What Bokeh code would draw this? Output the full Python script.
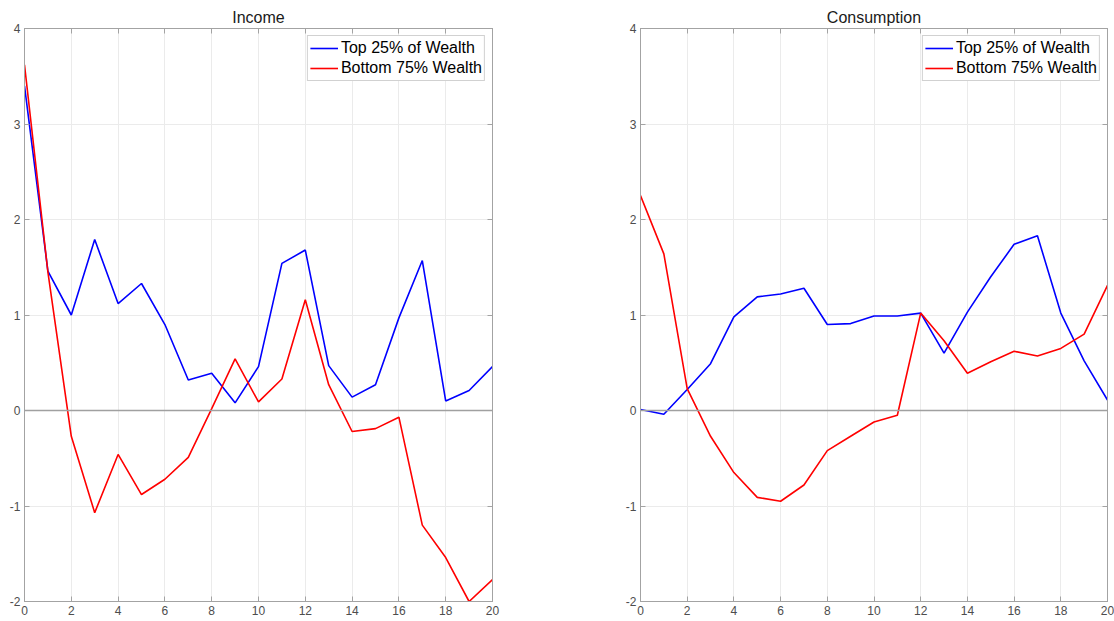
from bokeh.plotting import figure
from bokeh.models import FixedTicker, LinearAxis, Span, Legend, LegendItem, Range1d
from bokeh.layouts import row
from bokeh.embed import file_html
from bokeh.resources import INLINE

periods = list(range(21))

income_top = [3.40, 1.46, 1.00, 1.79, 1.12, 1.33, 0.90, 0.32, 0.39, 0.08, 0.46,
              1.54, 1.68, 0.47, 0.14, 0.27, 0.97, 1.57, 0.10, 0.21, 0.46]
income_bottom = [3.62, 1.45, -0.27, -1.07, -0.46, -0.88, -0.72, -0.49, 0.02, 0.54, 0.09,
                 0.33, 1.16, 0.27, -0.22, -0.19, -0.07, -1.20, -1.54, -2.00, -1.77]

cons_top = [0.01, -0.04, 0.22, 0.49, 0.98, 1.19, 1.22, 1.28, 0.90, 0.91, 0.99,
            0.99, 1.02, 0.60, 1.03, 1.40, 1.74, 1.83, 1.02, 0.52, 0.11]
cons_bottom = [2.25, 1.64, 0.23, -0.27, -0.65, -0.91, -0.95, -0.78, -0.42, -0.27, -0.12,
               -0.05, 1.02, 0.73, 0.39, 0.51, 0.62, 0.57, 0.65, 0.80, 1.31]

x_ticks = [0, 2, 4, 6, 8, 10, 12, 14, 16, 18, 20]
y_ticks = [-2, -1, 0, 1, 2, 3, 4]
y_tick_labels = ["-2", "-1", "0", "1", "2", "3", "4"]
series_labels = ["Top 25% of Wealth", "Bottom 75% Wealth"]
panel_titles = ["Income", "Consumption"]

FONT = "Liberation Sans"
FRAME = "#a3a3a3"
GRID = "#ebebeb"
LABEL = "#4d4d4d"


def style_axis(ax, ticks, show_labels=True, overrides=None):
    ax.ticker = FixedTicker(ticks=ticks)
    ax.axis_line_color = FRAME
    ax.major_tick_line_color = FRAME
    ax.major_tick_in = 5
    ax.major_tick_out = 0
    ax.minor_tick_line_color = None
    if show_labels:
        ax.major_label_text_font = FONT
        ax.major_label_text_font_size = "12px"
        ax.major_label_text_color = LABEL
        ax.major_label_standoff = 4
        if overrides:
            ax.major_label_overrides = overrides
    else:
        ax.major_label_text_font_size = "0px"
        ax.major_label_text_color = None
        ax.major_label_standoff = 0


def make_panel(title, top, bottom, width, border_left, border_right):
    p = figure(width=width, height=621, output_backend="svg", toolbar_location=None,
               x_range=Range1d(0, 20), y_range=Range1d(-2, 4),
               min_border_left=border_left, min_border_right=border_right,
               min_border_top=28, min_border_bottom=20)
    p.title.text = title
    p.title.align = "center"
    p.title.text_font = FONT
    p.title.text_font_size = "16px"
    p.title.text_font_style = "normal"
    p.title.text_color = "#1a1a1a"
    p.title.standoff = 6

    p.outline_line_color = FRAME
    p.outline_line_width = 1
    p.background_fill_color = "white"
    p.border_fill_color = "white"

    p.xgrid.ticker = FixedTicker(ticks=x_ticks)
    p.ygrid.ticker = FixedTicker(ticks=y_ticks)
    p.xgrid.grid_line_color = GRID
    p.ygrid.grid_line_color = GRID

    overrides = {t: s for t, s in zip(y_ticks, y_tick_labels)}
    style_axis(p.xaxis[0], x_ticks)
    style_axis(p.yaxis[0], y_ticks, overrides=overrides)

    ax_top = LinearAxis()
    style_axis(ax_top, x_ticks, show_labels=False)
    p.add_layout(ax_top, "above")
    ax_right = LinearAxis()
    style_axis(ax_right, y_ticks, show_labels=False)
    p.add_layout(ax_right, "right")

    p.add_layout(Span(location=0, dimension="width", line_color="#a0a0a0", line_width=1.6))

    r1 = p.line(periods, top, line_color="#0000ff", line_width=1.6)
    r2 = p.line(periods, bottom, line_color="#ff0000", line_width=1.6)

    legend = Legend(items=[LegendItem(label=series_labels[0], renderers=[r1]),
                           LegendItem(label=series_labels[1], renderers=[r2])],
                    location="top_right")
    legend.label_text_font = FONT
    legend.label_text_font_size = "16px"
    legend.label_text_color = "#000000"
    legend.border_line_color = FRAME
    legend.border_line_width = 1
    legend.background_fill_color = "white"
    legend.background_fill_alpha = 1.0
    legend.glyph_width = 28
    legend.glyph_height = 20
    legend.label_height = 20
    legend.label_standoff = 3
    legend.spacing = 0
    legend.padding = 2
    legend.margin = 7
    p.add_layout(legend)
    return p


left = make_panel(panel_titles[0], income_top, income_bottom, 560, 24, 68)
right = make_panel(panel_titles[1], cons_top, cons_bottom, 554, 80, 7)

layout = row(left, right)
open("out.html", "w").write(file_html(layout, INLINE))
